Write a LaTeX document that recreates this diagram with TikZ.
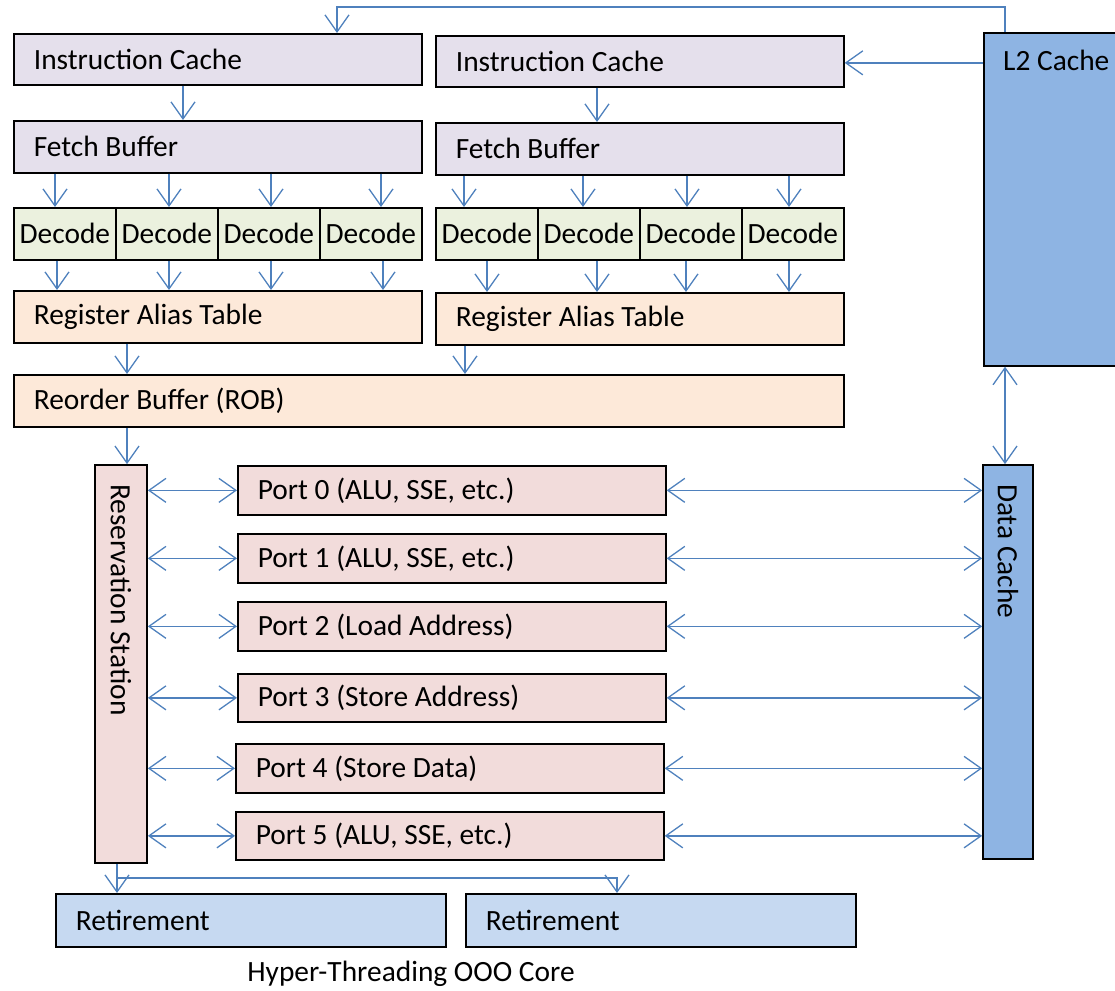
\documentclass[tikz,border=0pt]{standalone}
\usepackage{fontspec}
\setmainfont{Carlito}
\usetikzlibrary{arrows.meta,calc}
\definecolor{lav}{HTML}{E5E0EC}
\definecolor{dec}{HTML}{EBF1DE}
\definecolor{rat}{HTML}{FDE9D9}
\definecolor{port}{HTML}{F2DCDB}
\definecolor{cache}{HTML}{8EB4E3}
\definecolor{ret}{HTML}{C6D9F1}
\definecolor{arrc}{HTML}{4F81BD}
\newcommand\dfont{\fontsize{29.4}{32}\selectfont}
\newcommand\lb[2]{\makebox[#1][l]{#2}}
\begin{document}
\begin{tikzpicture}[x=1pt,y=-1pt,
  blk/.style={draw=black, line width=1.7pt, inner xsep=20pt, inner ysep=0pt, font=\dfont, anchor=north west},
  deccell/.style={draw=black, line width=1.7pt, fill=dec, inner sep=0pt, minimum width=102pt, minimum height=52pt, font=\dfont, anchor=north west},
  rot/.style={draw=black, line width=1.7pt, inner xsep=19pt, inner ysep=0pt, font=\dfont, rotate=-90, anchor=center},
  txt/.style={inner sep=0pt, font=\dfont},
  arr/.style={draw=arrc, line width=1.6pt, -{Straight Barb[length=17pt,width=24pt,line width=1.3pt]}},
  arrr/.style={draw=arrc, line width=1.6pt, {Straight Barb[length=17pt,width=24pt,line width=1.3pt]}-{Straight Barb[length=17pt,width=24pt,line width=1.3pt]}}
]
\useasboundingbox (0,0) rectangle (1115,990);

% front end, thread 1
\node[blk, fill=lav, minimum height=51pt] (ic1) at (13,33) {\lb{368pt}{Instruction Cache}};
\node[blk, fill=lav, minimum height=52pt] (fb1) at (13,120) {\lb{368pt}{Fetch Buffer}};
\node[deccell] (d1) at (13,207) {Decode};
\node[deccell] (d2) at (115,207) {Decode};
\node[deccell] (d3) at (217,207) {Decode};
\node[deccell] (d4) at (319,207) {Decode};
\node[blk, fill=rat, minimum height=52pt] (rat1) at (13,290) {\lb{368pt}{Register Alias Table}};

% front end, thread 2
\node[blk, fill=lav, minimum height=51pt] (ic2) at (435,35) {\lb{368pt}{Instruction Cache}};
\node[blk, fill=lav, minimum height=52pt] (fb2) at (435,122) {\lb{368pt}{Fetch Buffer}};
\node[deccell] (e1) at (435,207) {Decode};
\node[deccell] (e2) at (537,207) {Decode};
\node[deccell] (e3) at (639,207) {Decode};
\node[deccell] (e4) at (741,207) {Decode};
\node[blk, fill=rat, minimum height=52pt] (rat2) at (435,292) {\lb{368pt}{Register Alias Table}};

\node[blk, fill=rat, minimum height=52pt] (rob) at (13,374) {\lb{790pt}{Reorder Buffer (ROB)}};

% caches
\node[draw=black, line width=1.7pt, fill=cache, inner sep=0pt, minimum width=140pt, minimum height=333pt, anchor=north west] (l2) at (983,32) {};
\node[txt, anchor=west] (l2t) at (1003,60) {L2 Cache};
\node[rot, fill=cache, minimum height=50pt] (dc) at (1008,662) {\lb{356pt}{Data Cache}};

% reservation station and ports
\node[rot, fill=port, minimum height=52pt] (rs) at (121,664) {\lb{360pt}{Reservation Station}};
\node[blk, fill=port, minimum height=49pt] (p0) at (237,465) {\lb{388pt}{Port 0 (ALU, SSE, etc.)}};
\node[blk, fill=port, minimum height=49pt] (p1) at (237,533) {\lb{388pt}{Port 1 (ALU, SSE, etc.)}};
\node[blk, fill=port, minimum height=49pt] (p2) at (237,601) {\lb{388pt}{Port 2 (Load Address)}};
\node[blk, fill=port, minimum height=48pt] (p3) at (237,673) {\lb{388pt}{Port 3 (Store Address)}};
\node[blk, fill=port, minimum height=49pt] (p4) at (235,743) {\lb{388pt}{Port 4 (Store Data)}};
\node[blk, fill=port, minimum height=48pt] (p5) at (235,811) {\lb{388pt}{Port 5 (ALU, SSE, etc.)}};

% retirement
\node[blk, fill=ret, minimum height=53pt] (ret1) at (55,893) {\lb{350pt}{Retirement}};
\node[blk, fill=ret, minimum height=53pt] (ret2) at (465,893) {\lb{350pt}{Retirement}};

\node[txt] (cap) at (411,974) {Hyper-Threading OOO Core};

% connectors
\coordinate (l2top) at ($(l2.north west)+(22,0)$);
\coordinate (ic1top) at ($(ic1.north west)+(324,0)$);
\draw[arr] (l2top) -- ++(0,-25) -| (ic1top);
\coordinate (ic2r) at ($(ic2.east)+(0,1.5)$);
\draw[arr] (ic2r -| l2.west) -- (ic2r);

\draw[arr] ([xshift=170]ic1.south west) -- ([xshift=170]fb1.north west);
\draw[arr] ([xshift=162]ic2.south west) -- ([xshift=162]fb2.north west);

\draw[arr] ([xshift=42]fb1.south west) -- ([xshift=42]fb1.south west |- d1.north);
\draw[arr] ([xshift=156]fb1.south west) -- ([xshift=156]fb1.south west |- d1.north);
\draw[arr] ([xshift=258]fb1.south west) -- ([xshift=258]fb1.south west |- d1.north);
\draw[arr] ([xshift=368]fb1.south west) -- ([xshift=368]fb1.south west |- d1.north);

\draw[arr] ([xshift=29]fb2.south west) -- ([xshift=29]fb2.south west |- e1.north);
\draw[arr] ([xshift=148]fb2.south west) -- ([xshift=148]fb2.south west |- e1.north);
\draw[arr] ([xshift=252]fb2.south west) -- ([xshift=252]fb2.south west |- e1.north);
\draw[arr] ([xshift=354]fb2.south west) -- ([xshift=354]fb2.south west |- e1.north);

\draw[arr] ([xshift=44]d1.south west) -- ([xshift=44]rat1.north west);
\draw[arr] ([xshift=54]d2.south west) -- ([xshift=156]rat1.north west);
\draw[arr] ([xshift=54]d3.south west) -- ([xshift=258]rat1.north west);
\draw[arr] ([xshift=64]d4.south west) -- ([xshift=370]rat1.north west);

\draw[arr] ([xshift=52]e1.south west) -- ([xshift=52]rat2.north west);
\draw[arr] ([xshift=60]e2.south west) -- ([xshift=162]rat2.north west);
\draw[arr] ([xshift=47]e3.south west) -- ([xshift=251]rat2.north west);
\draw[arr] ([xshift=48]e4.south west) -- ([xshift=354]rat2.north west);

\draw[arr] ([xshift=114]rat1.south west) -- ([xshift=114]rob.north west);
\draw[arr] ([xshift=30]rat2.south west) -- ([xshift=452]rob.north west);
\draw[arr] ([xshift=114]rob.south west) -- ([xshift=114]rob.south west |- rs.west);

\foreach \p in {p0,p1,p2,p3,p4,p5}{
  \draw[arrr] (rs.north |- \p.west) -- (\p.west);
  \draw[arrr] (\p.east) -- (\p.east -| dc.south);
}

\coordinate (l2d) at ($(l2.south west)+(22,0)$);
\draw[arrr] (l2d) -- (l2d |- dc.west);

\coordinate (rsb) at ($(rs.east)+(-4,0)$);
\coordinate (br) at ($(rsb)+(0,14)$);
\coordinate (r2) at ($(ret2.north west)+(152,0)$);
\draw[arr] (rsb) -- (rsb |- ret1.north);
\draw[arr] (br) -| (r2);
\end{tikzpicture}
\end{document}
